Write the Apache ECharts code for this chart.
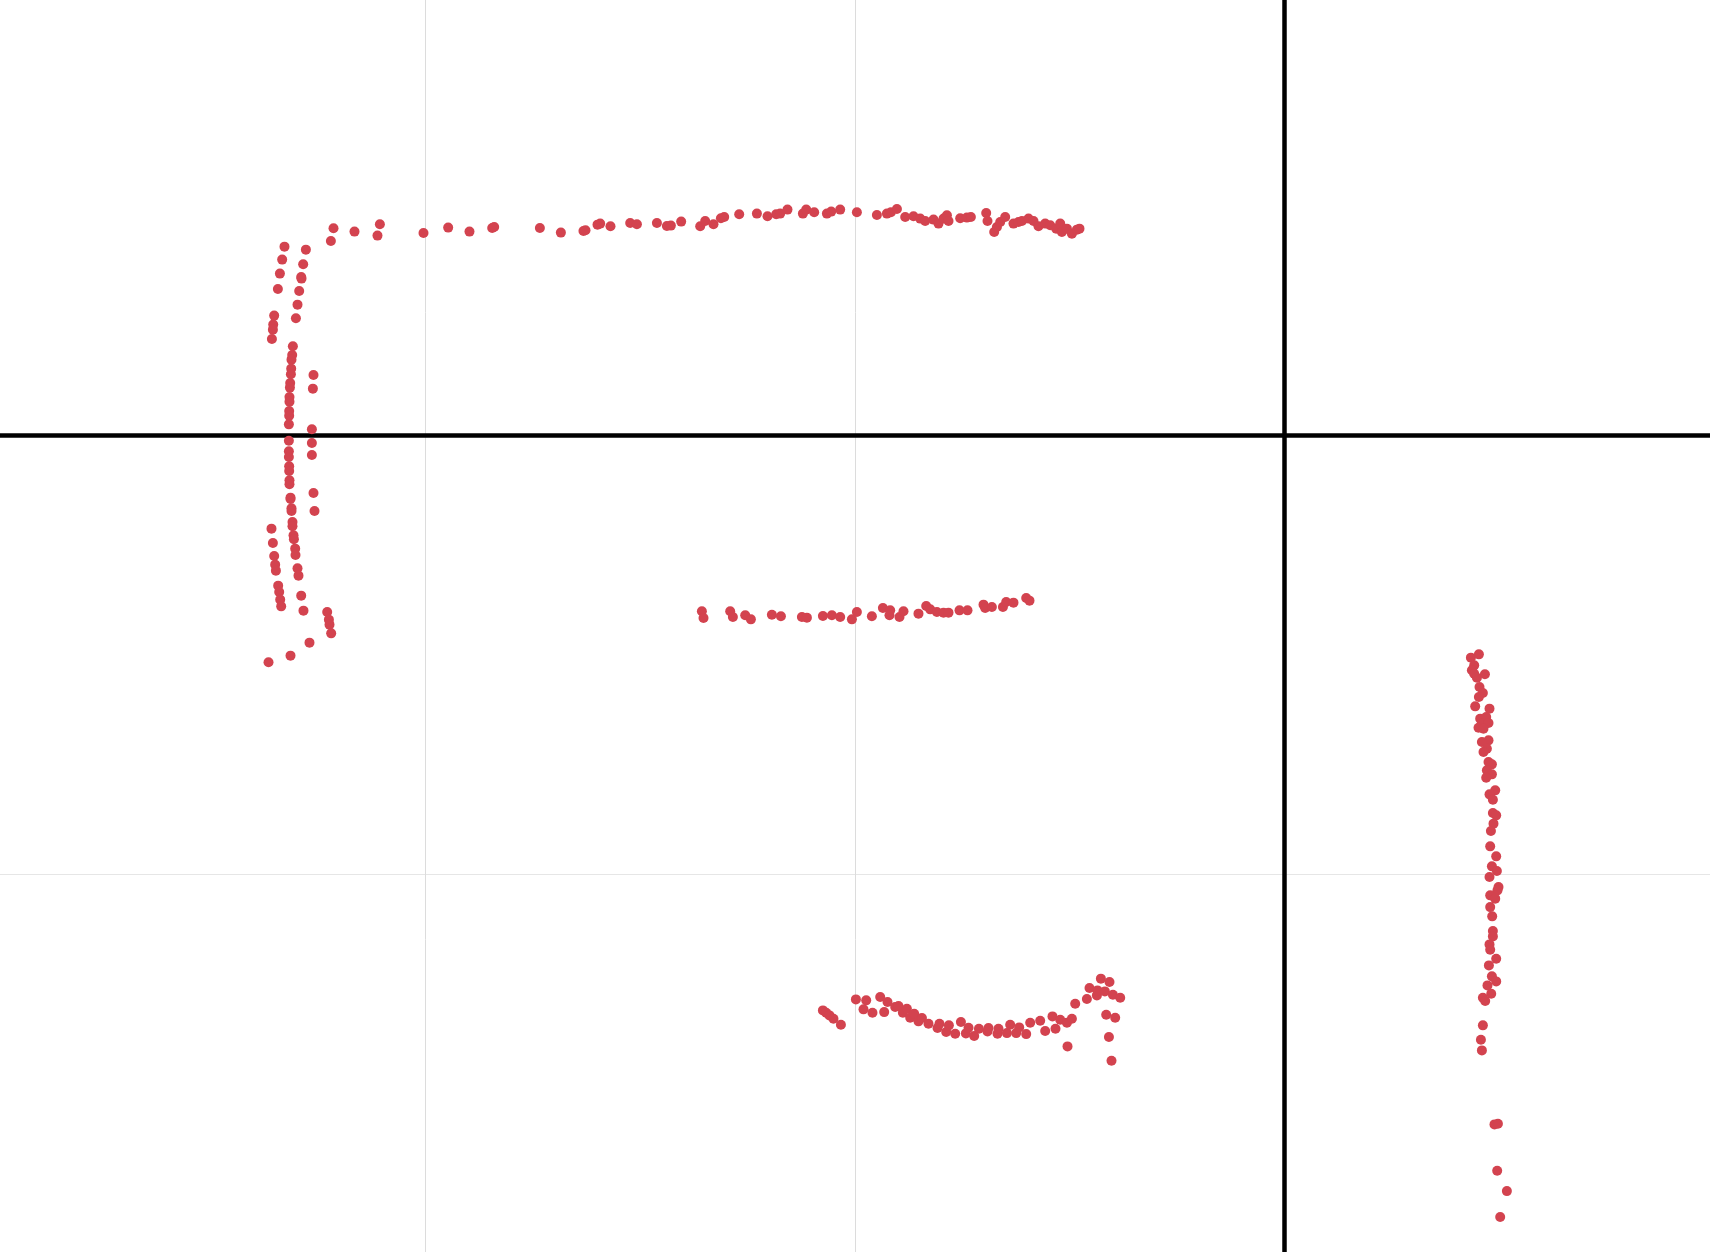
<!DOCTYPE html>
<html>
<head>
<meta charset="utf-8">
<script src="https://cdn.jsdelivr.net/npm/echarts@6/dist/echarts.min.js"></script>
<style>
html,body{margin:0;padding:0;background:#fff;}
#chart{width:1710px;height:1252px;}
</style>
</head>
<body>
<div id="chart"></div>
<script>
// Axis ranges (no labels shown in the reference)
const xRange = [-3, 1];
const yRange = [-2, 1];

// Top horizontal stroke
const topStroke = [
[-2.2203,0.4423],[-2.2142,0.4712],[-2.1653,0.4637],[-2.1118,0.4546],[-2.1062,0.4803],
[-2.0047,0.4605],[-1.9472,0.4728],[-1.8976,0.4637],[-1.8447,0.4719],[-1.8401,0.4742],
[-1.7337,0.4719],[-1.6848,0.4614],[-1.6322,0.4651],[-1.6275,0.4667],[-1.5995,0.4796],
[-1.5933,0.4819],[-1.5693,0.4758],[-1.5234,0.4833],[-1.5078,0.4803],[-1.4612,0.4833],
[-1.4380,0.4764],[-1.4287,0.4774],[-1.4047,0.4865],[-1.3604,0.4758],[-1.3488,0.4878],
[-1.3295,0.4803],[-1.3122,0.4940],[-1.3045,0.4969],[-1.2696,0.5031],[-1.2284,0.5047],
[-1.2037,0.4985],[-1.1835,0.5031],[-1.1742,0.5047],[-1.1572,0.5138],[-1.1213,0.5047],
[-1.1136,0.5138],[-1.0950,0.5076],[-1.0654,0.5047],[-1.0554,0.5092],[-1.0345,0.5138],
[-0.9956,0.5076],[-0.9490,0.5015],[-0.9257,0.5047],[-0.9164,0.5076],[-0.9024,0.5151],
[-0.8831,0.4969],[-0.8638,0.4985],[-0.8482,0.4933],[-0.8366,0.4878],[-0.8172,0.4910],
[-0.8056,0.4819],[-0.7939,0.4933],[-0.7860,0.5008],[-0.7823,0.4878],[-0.7551,0.4940],
[-0.7395,0.4956],[-0.7302,0.4969],[-0.6945,0.5060],[-0.6915,0.4878],[-0.6759,0.4628],
[-0.6696,0.4742],[-0.6619,0.4855],[-0.6503,0.4969],[-0.6310,0.4819],[-0.6193,0.4855],
[-0.6114,0.4878],[-0.5960,0.4933],[-0.5844,0.4878],[-0.5728,0.4758],[-0.5572,0.4819],
[-0.5455,0.4780],[-0.5315,0.4705],[-0.5222,0.4819],[-0.5183,0.4628],[-0.5066,0.4705],
[-0.4950,0.4591],[-0.4834,0.4682],[-0.4773,0.4705]
];

// Left vertical bracket
const leftBracket = [
[-2.3283,0.4295],[-2.3337,0.4000],[-2.3390,0.3681],[-2.3437,0.3330],[-2.3523,0.2725],
[-2.3546,0.2520],[-2.3553,0.2406],[-2.3576,0.2192],
[-2.2785,0.4227],[-2.2848,0.3893],[-2.2894,0.3603],[-2.2887,0.3567],[-2.2941,0.3285],
[-2.2980,0.2975],[-2.3017,0.2663],
[-2.3088,0.2026],[-2.3104,0.1828],[-2.3120,0.1723],[-2.3127,0.1518],[-2.3134,0.1389],
[-2.3150,0.1191],[-2.3157,0.1086],[-2.3167,0.0872],[-2.3167,0.0767],[-2.3174,0.0553],
[-2.3174,0.0448],[-2.3181,0.0250],[-2.3181,-0.0125],[-2.3181,-0.0364],[-2.3181,-0.0494],
[-2.3174,-0.0706],[-2.3174,-0.0813],[-2.3167,-0.1024],[-2.3167,-0.1115],[-2.3143,-0.1418],
[-2.3143,-0.1450],[-2.3120,-0.1662],[-2.3120,-0.1723],[-2.3097,-0.1974],[-2.3097,-0.2071],
[-2.3073,-0.2276],[-2.3064,-0.2367],[-2.3034,-0.2579],[-2.3027,-0.2725],[-2.2980,-0.3028],
[-2.2957,-0.3194],[-2.2894,-0.3649],[-2.2841,-0.3990],
[-2.2608,0.1373],[-2.2622,0.1063],[-2.2645,0.0137],[-2.2645,-0.0175],[-2.2645,-0.0448],
[-2.2608,-0.1313],[-2.2584,-0.1723],
[-2.3586,-0.2124],[-2.3553,-0.2452],[-2.3523,-0.2748],[-2.3500,-0.2943],[-2.3483,-0.3080],
[-2.3430,-0.3421],[-2.3406,-0.3567],[-2.3383,-0.3740],[-2.3360,-0.3893],
[-2.2289,-0.4022],[-2.2249,-0.4195],[-2.2235,-0.4309],[-2.2196,-0.4507],[-2.2701,-0.4719],
[-2.3143,-0.5015],[-2.3655,-0.5167]
];

// Middle horizontal stroke
const middleStroke = [
[-1.3565,-0.4006],[-1.3527,-0.4159],[-1.2906,-0.4006],[-1.2843,-0.4136],[-1.2556,-0.4097],
[-1.2424,-0.4189],[-1.1935,-0.4082],[-1.1725,-0.4120],[-1.1236,-0.4136],[-1.1120,-0.4150],
[-1.0747,-0.4113],[-1.0538,-0.4097],[-1.0345,-0.4136],[-1.0072,-0.4189],[-0.9956,-0.4022],
[-0.9607,-0.4120],[-0.9350,-0.3931],[-0.9181,-0.3984],[-0.9197,-0.4097],[-0.8964,-0.4136],
[-0.8871,-0.4006],[-0.8522,-0.4059],[-0.8342,-0.3886],[-0.8249,-0.3961],[-0.8093,-0.4022],
[-0.7939,-0.4036],[-0.7823,-0.4036],[-0.7567,-0.3984],[-0.7381,-0.3984],[-0.7008,-0.3854],
[-0.6969,-0.3931],[-0.6813,-0.3909],[-0.6556,-0.3909],[-0.6480,-0.3795],[-0.6310,-0.3808],
[-0.6014,-0.3704],[-0.5937,-0.3763]
];

// Bottom curved stroke
const bottomCurve = [
[-1.0747,-1.3089],[-1.0671,-1.3142],[-1.0594,-1.3203],[-1.0501,-1.3278],[-1.0328,-1.3415],
[-0.9979,-1.2839],[-0.9802,-1.3066],[-0.9739,-1.2861],[-0.9593,-1.3142],[-0.9413,-1.2786],
[-0.9320,-1.3128],[-0.9243,-1.2900],[-0.9064,-1.3014],[-0.8987,-1.2991],[-0.8885,-1.3142],
[-0.8792,-1.3050],[-0.8715,-1.3255],[-0.8622,-1.3164],[-0.8522,-1.3339],[-0.8442,-1.3264],
[-0.8289,-1.3392],[-0.8079,-1.3492],[-0.8033,-1.3392],[-0.7877,-1.3583],[-0.7814,-1.3430],
[-0.7667,-1.3619],[-0.7534,-1.3355],[-0.7418,-1.3613],[-0.7357,-1.3483],[-0.7225,-1.3674],
[-0.7115,-1.3506],[-0.6915,-1.3567],[-0.6892,-1.3492],[-0.6682,-1.3619],[-0.6659,-1.3506],
[-0.6463,-1.3606],[-0.6387,-1.3415],[-0.6247,-1.3606],[-0.6177,-1.3476],[-0.6014,-1.3629],
[-0.5921,-1.3369],[-0.5688,-1.3324],[-0.5572,-1.3560],[-0.5402,-1.3226],[-0.5332,-1.3506],
[-0.5222,-1.3301],[-0.5052,-1.3909],[-0.5066,-1.3369],[-0.4950,-1.3278],[-0.4873,-1.2937],
[-0.4601,-1.2832],[-0.4540,-1.2581],[-0.4368,-1.2748],[-0.4354,-1.2634],[-0.4275,-1.2367],
[-0.4182,-1.2657],[-0.4075,-1.2445],[-0.3995,-1.2732],[-0.3825,-1.2800],[-0.4151,-1.3187],
[-0.3942,-1.3255],[-0.4088,-1.3697],[-0.4028,-1.4234]
];

// Right vertical stroke
const rightStroke = [
[0.4340,-0.5060],[0.4526,-0.4985],[0.4417,-0.5236],[0.4363,-0.5349],[0.4417,-0.5425],
[0.4480,-0.5516],[0.4666,-0.5440],[0.4540,-0.5730],[0.4619,-0.5866],[0.4526,-0.5957],
[0.4440,-0.6169],[0.4773,-0.6221],[0.4556,-0.6449],[0.4696,-0.6413],[0.4596,-0.6563],
[0.4517,-0.6654],[0.4750,-0.6549],[0.4633,-0.6677],[0.4750,-0.6943],[0.4596,-0.6982],
[0.4712,-0.7132],[0.4633,-0.7209],[0.4750,-0.7437],[0.4829,-0.7489],[0.4712,-0.7626],
[0.4829,-0.7717],[0.4696,-0.7792],[0.4906,-0.8081],[0.4773,-0.8172],[0.4852,-0.8293],
[0.4852,-0.8598],[0.4929,-0.8650],[0.4866,-0.8839],[0.4806,-0.9008],[0.4789,-0.9356],
[0.4929,-0.9583],[0.4829,-0.9811],[0.4945,-0.9918],[0.4773,-1.0055],[0.4983,-1.0282],
[0.4959,-1.0357],[0.4789,-1.0471],[0.4906,-1.0546],[0.4789,-1.0738],[0.4836,-1.0949],
[0.4852,-1.1284],[0.4852,-1.1405],[0.4773,-1.1587],[0.4789,-1.1707],[0.4929,-1.1912],
[0.4759,-1.2065],[0.4829,-1.2315],[0.4929,-1.2429],[0.4726,-1.2520],[0.4813,-1.2709],
[0.4619,-1.2800],[0.4673,-1.2877],[0.4619,-1.3430],[0.4573,-1.3756],[0.4596,-1.4000],
[0.4889,-1.5684],[0.4969,-1.5668],[0.4952,-1.6738],[0.5178,-1.7203],[0.5022,-1.7794]
];

const dotColor = '#d3434f';
const groups = [topStroke, leftBracket, middleStroke, bottomCurve, rightStroke];

const chart = echarts.init(document.getElementById('chart'), null, {renderer: 'canvas'});
chart.setOption({
  animation: false,
  backgroundColor: '#ffffff',
  grid: {left: -4, top: -4, width: 1718, height: 1318, containLabel: false, outerBoundsMode: 'none'},
  xAxis: {
    type: 'value', min: xRange[0], max: xRange[1], interval: 1,
    axisLine: {show: true, onZero: true, lineStyle: {color: '#000', width: 4.5}},
    axisTick: {show: false}, axisLabel: {show: false},
    splitLine: {show: true, lineStyle: {color: '#dcdcdc', width: 1}}
  },
  yAxis: {
    type: 'value', min: yRange[0], max: yRange[1], interval: 1,
    axisLine: {show: true, onZero: true, lineStyle: {color: '#000', width: 4.5}},
    axisTick: {show: false}, axisLabel: {show: false},
    splitLine: {show: true, lineStyle: {color: '#e6e6e6', width: 1}}
  },
  series: groups.map(g => ({
    type: 'scatter', data: g, symbolSize: 10,
    itemStyle: {color: dotColor, opacity: 1},
    z: 3
  }))
});
</script>
</body>
</html>
